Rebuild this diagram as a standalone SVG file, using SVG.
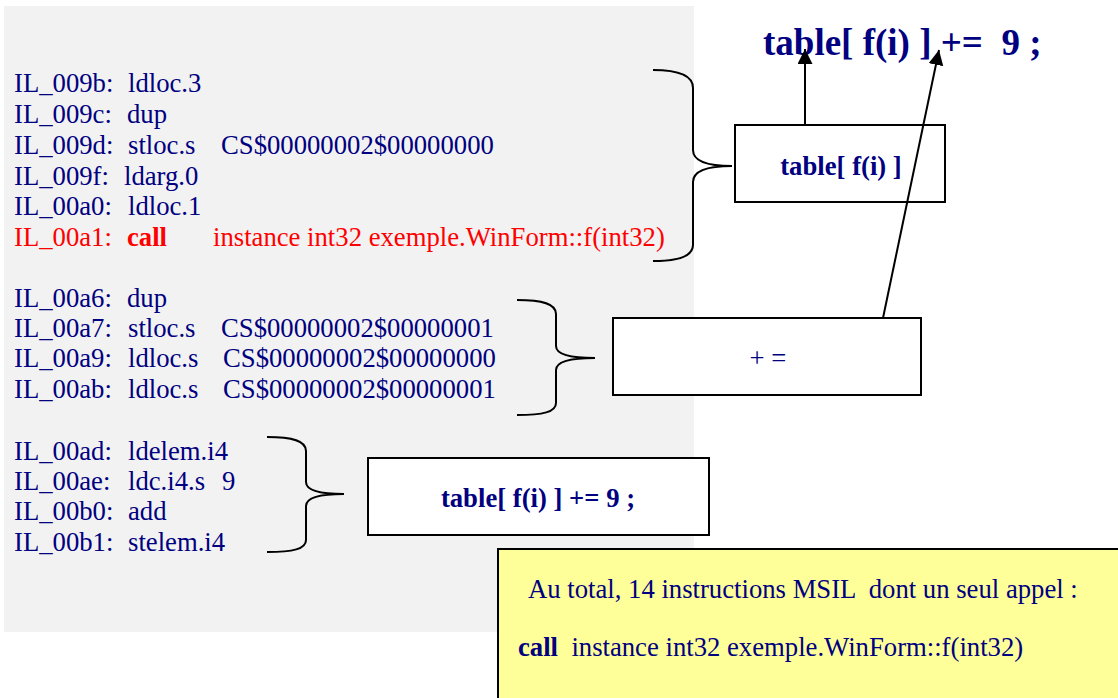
<svg xmlns="http://www.w3.org/2000/svg" width="1118" height="698" viewBox="0 0 1118 698">
  <style>
    text { white-space: pre; }
    .code { font-family: "Liberation Serif", "Times New Roman", serif; font-size: 26.7px; fill: #000080; }
    .red { fill: #ff0000; }
    .b { font-weight: bold; }
    .box { fill: #ffffff; stroke: #000000; stroke-width: 2; }
    .brace { fill: none; stroke: #000000; stroke-width: 2; }
    .conn { stroke: #000000; stroke-width: 2; fill: none; }
  </style>
  <defs>
    <marker id="arr" markerUnits="userSpaceOnUse" markerWidth="16" markerHeight="16" refX="15" refY="7.5" orient="auto">
      <path d="M0,0 L15,7.5 L0,15 z" fill="#000000"/>
    </marker>
  </defs>

  <rect x="4" y="6" width="690" height="626" fill="#f2f2f2"/>

  <g id="code-block-1" class="code">
    <text y="92"><tspan x="14">IL_009b:</tspan><tspan x="128">ldloc.3</tspan></text>
    <text y="123"><tspan x="14">IL_009c:</tspan><tspan x="127">dup</tspan></text>
    <text y="154"><tspan x="14">IL_009d:</tspan><tspan x="128">stloc.s</tspan><tspan x="221">CS$00000002$00000000</tspan></text>
    <text y="185"><tspan x="14">IL_009f:</tspan><tspan x="124">ldarg.0</tspan></text>
    <text y="215"><tspan x="14">IL_00a0:</tspan><tspan x="128">ldloc.1</tspan></text>
    <text y="246" class="red"><tspan x="14">IL_00a1:</tspan><tspan x="127" class="b">call</tspan><tspan x="213">instance int32 exemple.WinForm::f(int32)</tspan></text>
  </g>

  <g id="code-block-2" class="code">
    <text y="307"><tspan x="14">IL_00a6:</tspan><tspan x="127">dup</tspan></text>
    <text y="337"><tspan x="14">IL_00a7:</tspan><tspan x="128">stloc.s</tspan><tspan x="221">CS$00000002$00000001</tspan></text>
    <text y="367"><tspan x="14">IL_00a9:</tspan><tspan x="128">ldloc.s</tspan><tspan x="223">CS$00000002$00000000</tspan></text>
    <text y="398"><tspan x="14">IL_00ab:</tspan><tspan x="128">ldloc.s</tspan><tspan x="223">CS$00000002$00000001</tspan></text>
  </g>

  <g id="code-block-3" class="code">
    <text y="460"><tspan x="14">IL_00ad:</tspan><tspan x="128">ldelem.i4</tspan></text>
    <text y="490"><tspan x="14">IL_00ae:</tspan><tspan x="128">ldc.i4.s</tspan><tspan x="222">9</tspan></text>
    <text y="520"><tspan x="14">IL_00b0:</tspan><tspan x="128">add</tspan></text>
    <text y="551"><tspan x="14">IL_00b1:</tspan><tspan x="128">stelem.i4</tspan></text>
  </g>

  <g id="title">
    <text x="763" y="55" class="code b" style="font-size:37px">table[ f(i) ] +=  9 ;</text>
  </g>

  <g id="brace-1">
    <path class="brace" d="M653,70 C680,70 693,76 693,88 L693,150 C693,160 705,166 732,166 C705,166 693,172 693,182 L693,245 C693,255 680,261 653,261"/>
  </g>
  <g id="brace-2">
    <path class="brace" d="M517,300 C543,300 556,304 556,314 L556,346 C556,354 570,358 595,358 C570,358 556,362 556,370 L556,403 C556,412 543,415 517,415"/>
  </g>
  <g id="brace-3">
    <path class="brace" d="M267,437 C293,437 306,441 306,451 L306,482 C306,490 320,494 344,494 C320,494 306,498 306,506 L306,540 C306,549 293,552 267,552"/>
  </g>

  <g id="box-table-fi">
    <rect class="box" x="735" y="125" width="210" height="77"/>
    <text x="841" y="175" text-anchor="middle" class="code b">table[ f(i) ]</text>
  </g>

  <g id="box-plus-eq">
    <rect class="box" x="613" y="318" width="308" height="77"/>
    <text x="768" y="367" text-anchor="middle" class="code">+ =</text>
  </g>

  <g id="box-statement">
    <rect class="box" x="368" y="458" width="341" height="77"/>
    <text x="538" y="507" text-anchor="middle" class="code b">table[ f(i) ] += 9 ;</text>
  </g>

  <g id="note">
    <rect x="498" y="549" width="630" height="160" fill="#ffff99" stroke="#000000" stroke-width="2"/>
    <text x="528" y="598" class="code">Au total, 14 instructions MSIL  dont un seul appel :</text>
    <text x="518" y="656" class="code"><tspan class="b">call</tspan>  instance int32 exemple.WinForm::f(int32)</text>
  </g>

  <g id="connectors">
    <line class="conn" x1="805" y1="125" x2="805" y2="49" marker-end="url(#arr)"/>
    <line class="conn" x1="883" y1="318" x2="939" y2="50" marker-end="url(#arr)"/>
  </g>
</svg>
